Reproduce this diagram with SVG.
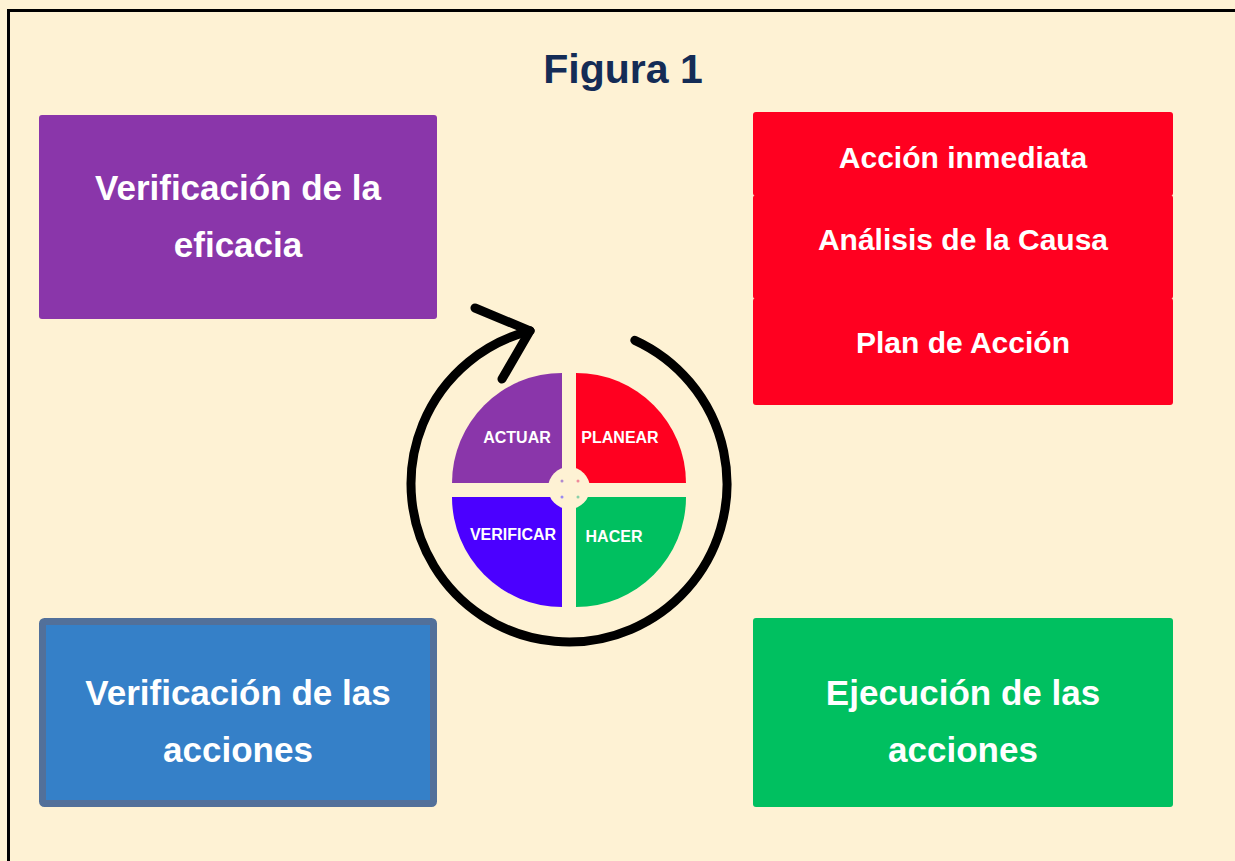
<svg xmlns="http://www.w3.org/2000/svg" width="1235" height="861" viewBox="0 0 1235 861">
<style>
.lbl{font-family:"Liberation Sans",Arial,sans-serif;font-weight:bold;fill:#ffffff;text-anchor:middle}
.big{font-size:35px}
.red{font-size:30px}
.q{font-size:16px}
</style>
<defs></defs>
<rect x="0" y="0" width="1235" height="861" fill="#fef2d4"/>
<rect x="8.5" y="10.5" width="1250" height="900" fill="none" stroke="#000000" stroke-width="3"/>
<text x="623" y="83" font-family="Liberation Sans, Arial, sans-serif" font-weight="bold" font-size="41" fill="#142c56" text-anchor="middle">Figura 1</text>

<g id="node-eficacia">
<rect x="39" y="115" width="398" height="204" rx="3" fill="#8a36aa"/>
<text class="lbl big" x="238" y="200">Verificación de la</text>
<text class="lbl big" x="238" y="257">eficacia</text>
</g>

<g id="node-plan">
<rect x="753" y="112" width="420" height="84" rx="3" fill="#ff0020"/>
<rect x="753" y="195" width="420" height="104" rx="3" fill="#ff0020"/>
<rect x="753" y="298" width="420" height="107" rx="3" fill="#ff0020"/>
<text class="lbl red" x="963" y="168">Acción inmediata</text>
<text class="lbl red" x="963" y="250">Análisis de la Causa</text>
<text class="lbl red" x="963" y="353">Plan de Acción</text>
</g>

<g id="node-verificacion">
<rect x="42.5" y="621.5" width="391" height="182" rx="2" fill="#3580c8" stroke="#52709a" stroke-width="7"/>
<text class="lbl big" x="238" y="705">Verificación de las</text>
<text class="lbl big" x="238" y="762">acciones</text>
</g>

<g id="node-ejecucion">
<rect x="753" y="618" width="420" height="189" rx="3" fill="#00c060"/>
<text class="lbl big" x="963" y="705">Ejecución de las</text>
<text class="lbl big" x="963" y="762">acciones</text>
</g>

<g id="node-cycle">
<path d="M562 483 L452 483 A110 110 0 0 1 562 373 Z" fill="#8a36aa"/>
<path d="M576 483 L576 373 A110 110 0 0 1 686 483 Z" fill="#ff0020"/>
<path d="M562 497 L562 607 A110 110 0 0 1 452 497 Z" fill="#4b00ff"/>
<path d="M576 497 L686 497 A110 110 0 0 1 576 607 Z" fill="#00c060"/>
<circle cx="569" cy="488" r="21" fill="#fef2d4"/>
<circle cx="562" cy="481" r="1.5" fill="#b08ad0"/>
<circle cx="578" cy="481" r="1.5" fill="#f08a9a"/>
<circle cx="562" cy="497" r="1.5" fill="#9a8af0"/>
<circle cx="578" cy="497" r="1.5" fill="#8ad0a8"/>
<text class="lbl q" x="517" y="443">ACTUAR</text>
<text class="lbl q" x="620" y="443">PLANEAR</text>
<text class="lbl q" x="513" y="540">VERIFICAR</text>
<text class="lbl q" x="614" y="542">HACER</text>
</g>

<g id="connectors" fill="none" stroke="#000000" stroke-width="9" stroke-linecap="round" stroke-linejoin="round">
<path d="M634.8 340.3 A158 158 0 1 1 530.2 330.8"/>
<path d="M475 308 L530 330.8 L502 379"/>
</g>
</svg>
